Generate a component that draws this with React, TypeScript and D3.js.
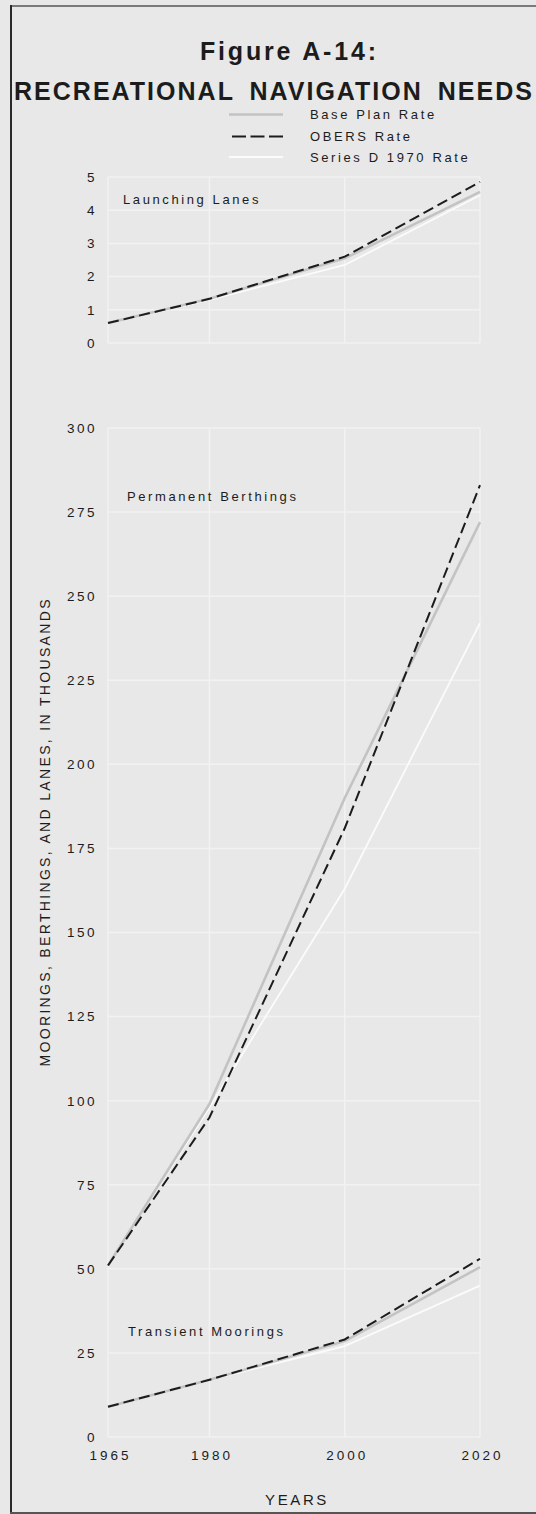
import React from "react";
import * as d3 from "d3";

// ---- data (thousands) ----
const years = [1965, 1980, 2000, 2020];

const launchBase = [0.6, 1.33, 2.55, 4.55];
const launchObers = [0.6, 1.33, 2.6, 4.85];
const launchSeriesD = [0.6, 1.3, 2.35, 4.45];

const berthBase = [51, 99, 190, 272];
const berthObers = [51, 95, 181, 283];
const berthSeriesD = [51, 98, 163, 242];

const transBase = [9, 17, 28.5, 50.5];
const transObers = [9, 17, 29, 53];
const transSeriesD = [9, 17, 27, 45];

const topTicks = [0, 1, 2, 3, 4, 5];
const bottomTicks = [0, 25, 50, 75, 100, 125, 150, 175, 200, 225, 250, 275, 300];
const yearTicks = [1965, 1980, 2000, 2020];

const legendItems = ["Base Plan Rate", "OBERS Rate", "Series D 1970 Rate"];

const FONT = "'Liberation Sans', Arial, sans-serif";
const BG = "#e8e8e8";
const GRID = "#f2f2f2";
const BASE_COL = "#c3c3c3";
const SERIESD_COL = "#fbfbfb";
const INK = "#1c1c1c";

export default function App() {
  const x = d3.scaleLinear().domain([1965, 2020]).range([108, 480]);
  const yTop = d3.scaleLinear().domain([0, 5]).range([343, 177]);
  const yBot = d3.scaleLinear().domain([0, 300]).range([1437, 428]);

  const lineTop = d3
    .line<number>()
    .x((_, i) => x(years[i]))
    .y((d) => yTop(d));
  const lineBot = d3
    .line<number>()
    .x((_, i) => x(years[i]))
    .y((d) => yBot(d));

  const [x0, x1] = x.range();

  const seriesSet = (gen: any, base: number[], obers: number[], sd: number[]) => (
    <g fill="none">
      <path d={gen(sd) || ""} stroke={SERIESD_COL} strokeWidth={1.8} />
      <path d={gen(base) || ""} stroke={BASE_COL} strokeWidth={2.6} />
      <path d={gen(obers) || ""} stroke={INK} strokeWidth={2} strokeDasharray="11 5" />
    </g>
  );

  const grid = (yScale: any, ticks: number[]) => (
    <g stroke={GRID} strokeWidth={1.5}>
      {ticks.map((t) => (
        <line key={"h" + t} x1={x0} x2={x1} y1={yScale(t)} y2={yScale(t)} />
      ))}
      {yearTicks.map((yr) => (
        <line
          key={"v" + yr}
          x1={x(yr)}
          x2={x(yr)}
          y1={yScale(ticks[ticks.length - 1])}
          y2={yScale(ticks[0])}
        />
      ))}
    </g>
  );

  const tickLabels = (yScale: any, ticks: number[]) => (
    <g fontFamily={FONT} fontSize={13.5} fill={INK} textAnchor="end" style={{ letterSpacing: "2.5px" }}>
      {ticks.map((t) => (
        <text key={t} x={97} y={yScale(t)} dy="0.36em">
          {String(t)}
        </text>
      ))}
    </g>
  );

  return (
    <svg
      width={536}
      height={1514}
      style={{ position: "absolute", left: 0, top: 0, background: BG }}
    >
      <rect x={0} y={0} width={536} height={1514} fill={BG} />
      {/* frame */}
      <line x1={10} x2={536} y1={6} y2={6} stroke="#7a7a7a" strokeWidth={2} />
      <line x1={11} x2={11} y1={5} y2={1514} stroke="#2a2a2a" strokeWidth={2} />
      <line x1={10} x2={536} y1={1513} y2={1513} stroke="#555" strokeWidth={2} />

      {/* title */}
      <text
        x={288}
        y={60}
        textAnchor="middle"
        fontFamily={FONT}
        fontWeight="bold"
        fontSize={25}
        fill={INK}
        textLength={176}
        lengthAdjust="spacing"
      >
        Figure A-14:
      </text>
      <text
        x={273}
        y={100}
        textAnchor="middle"
        fontFamily={FONT}
        fontWeight="bold"
        fontSize={25}
        fill={INK}
        textLength={518}
        lengthAdjust="spacing"
        style={{ wordSpacing: "6px" }}
      >
        RECREATIONAL NAVIGATION NEEDS
      </text>

      {/* legend */}
      <g>
        <line x1={229} x2={283} y1={114.5} y2={114.5} stroke={BASE_COL} strokeWidth={2.4} />
        <line x1={232} x2={283} y1={136.5} y2={136.5} stroke={INK} strokeWidth={2} strokeDasharray="14 4.5" />
        <line x1={229} x2={283} y1={157} y2={157} stroke={SERIESD_COL} strokeWidth={1.8} />
        <g fontFamily={FONT} fontSize={13} fill={INK} style={{ letterSpacing: "2.6px" }}>
          {legendItems.map((t, i) => (
            <text key={t} x={310} y={[114.5, 136, 157.5][i]} dy="0.36em">
              {t}
            </text>
          ))}
        </g>
      </g>

      {/* top panel: launching lanes */}
      {grid(yTop, topTicks)}
      {tickLabels(yTop, topTicks)}
      <text x={123} y={199} dy="0.36em" fontFamily={FONT} fontSize={13} fill={INK} style={{ letterSpacing: "2.6px" }}>
        Launching Lanes
      </text>
      {seriesSet(lineTop, launchBase, launchObers, launchSeriesD)}

      {/* bottom panel */}
      {grid(yBot, bottomTicks)}
      {tickLabels(yBot, bottomTicks)}
      <text x={127} y={496} dy="0.36em" fontFamily={FONT} fontSize={13} fill={INK} style={{ letterSpacing: "2.6px" }}>
        Permanent Berthings
      </text>
      <text x={128} y={1331} dy="0.36em" fontFamily={FONT} fontSize={13} fill={INK} style={{ letterSpacing: "2.6px" }}>
        Transient Moorings
      </text>
      {seriesSet(lineBot, berthBase, berthObers, berthSeriesD)}
      {seriesSet(lineBot, transBase, transObers, transSeriesD)}

      {/* x axis labels */}
      <g fontFamily={FONT} fontSize={13.5} fill={INK} textAnchor="middle" style={{ letterSpacing: "3px" }}>
        {yearTicks.map((yr) => (
          <text key={yr} x={x(yr) + 2.5} y={1455} dy="0.36em">
            {String(yr)}
          </text>
        ))}
      </g>
      <text
        x={297}
        y={1500}
        dy="0.36em"
        textAnchor="middle"
        fontFamily={FONT}
        fontSize={15}
        fill={INK}
        style={{ letterSpacing: "2.6px" }}
      >
        YEARS
      </text>

      {/* y axis title */}
      <text
        transform="translate(45,833) rotate(-90)"
        textAnchor="middle"
        dy="0.36em"
        fontFamily={FONT}
        fontSize={14}
        fill={INK}
        textLength={467}
        lengthAdjust="spacing"
      >
        MOORINGS, BERTHINGS, AND LANES, IN THOUSANDS
      </text>
    </svg>
  );
}
